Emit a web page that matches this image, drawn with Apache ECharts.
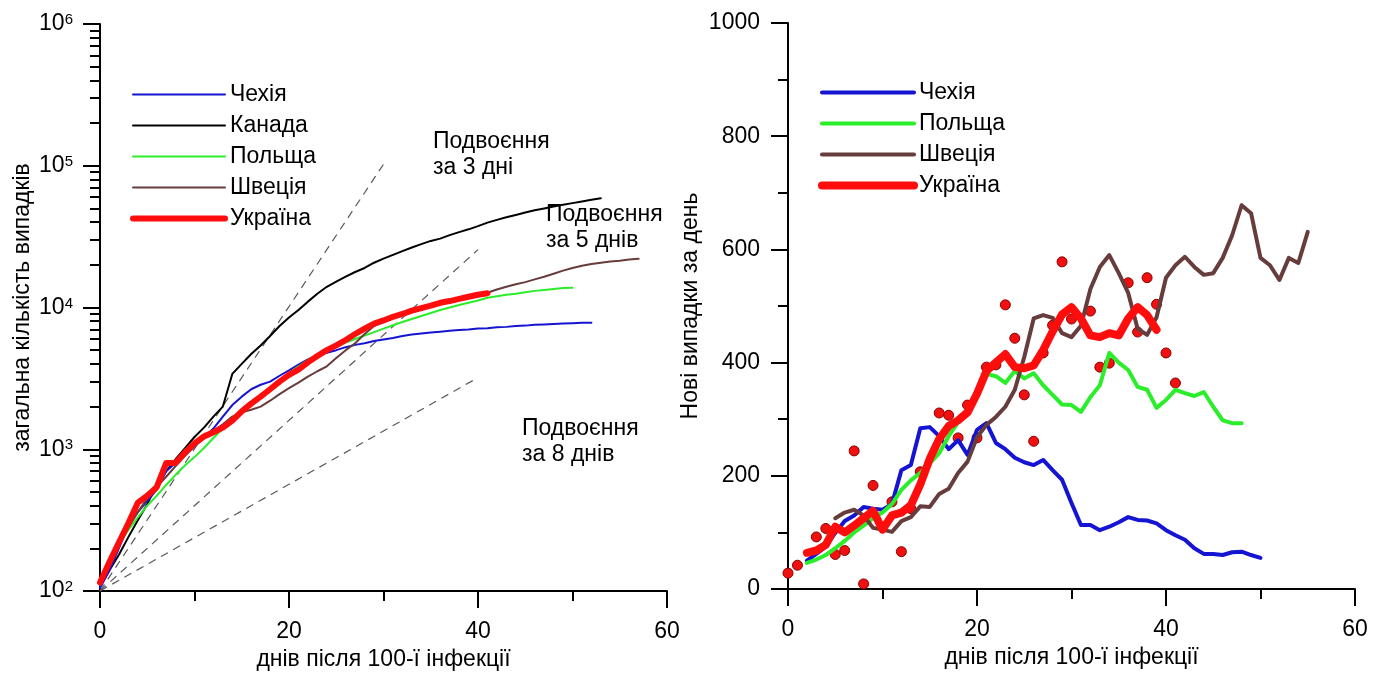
<!DOCTYPE html>
<html lang="uk">
<head>
<meta charset="UTF-8">
<title>COVID-19: Україна та інші країни</title>
<script src="https://cdn.jsdelivr.net/npm/echarts@6/dist/echarts.min.js"></script>
<style>
html, body { margin: 0; padding: 0; background: #fff; }
#main { width: 1379px; height: 673px; }
</style>
</head>
<body>
<div id="main"></div>
<script>
// загальна кількість випадків, з дня 0 (ліва панель)
var totCzech = [105,140,200,290,360,430,520,700,800,920, 1050,1200,1400,1700,2050,2350,2650,2850,3000,3300,
  3600,3950,4300,4600,4800,5000,5250,5450,5600,5800, 5950,6100,6300,6450,6550,6650,6750,6850,6950,7000,
  7100,7150,7250,7300,7400,7450,7550,7600,7650,7700, 7750,7800,7800];
var totCanada = [107,140,180,240,316,410,560,700,850,1020, 1220,1420,1700,2000,3400,4000,4700,5400,6300,7400,
  8500,9600,11000,12500,14000,15200,16500,17800,19000,20700, 22100,23500,25000,26500,28000,29500,30600,32400,34000,35600,
  37500,39700,41500,43300,45000,46800,48500,50000,51500,53000, 54500,56000,57500,59000];
var totPoland = [110,160,215,270,330,400,470,560,660,770, 880,1020,1200,1400,1600,1820,2050,2350,2700,3050,
  3450,3850,4250,4650,5000,5300,5650,6000,6350,6700, 7100,7500,7900,8300,8700,9150,9600,10000,10400,10800,
  11200,11700,12000,12300,12500,12800,13100,13300,13500,13700, 13800];
var totSweden = [110,150,210,280,360,450,540,640,760,900, 1050,1200,1350,1500,1700,1820,1900,2000,2200,2450,
  2700,2950,3250,3550,3850,4400,5000,5600,6500,7400, 7900,8400,8800,9300,9700,10100,10600,10900,11300,11700,
  12200,12700,13400,14000,14600,15100,15800,16500,17300,18200, 19000,19700,20300,20700,21100,21400,21800,22100];
var totUkraine = [115,160,220,300,420,470,540,800,800,950, 1100,1230,1320,1420,1590,1850,2100,2350,2650,3000,
  3350,3650,4100,4550,5000,5400,5900,6500,7100,7700, 8100,8600,9000,9500,9900,10300,10800,11100,11500,11900,
  12300,12600];

// лінії подвоєння (кінцеві точки)
var dbl3Days = [0, 30], dbl3Vals = [100, 102400];
var dbl5Days = [0, 40], dbl5Vals = [100, 25600];
var dbl8Days = [0, 40], dbl8Vals = [100, 3200];

// нові випадки за день (права панель), перший день у *Start
var dailyCzechStart = 2;
var dailyCzech = [50,62,75,99,120,130,145,142,140,150, 210,219,284,286,270,247,263,237,281,293,
  258,247,232,224,219,228,210,193,152,113, 113,104,110,118,127,122,121,116,104,95,
  87,72,62,62,60,65,66,60,55];
var dailyPolandStart = 2;
var dailyPoland = [46,52,60,72,85,100,112,125,135,150, 175,192,205,222,240,270,295,315,352,380,
  376,364,385,372,381,360,343,326,325,313, 339,360,417,400,387,357,352,320,334,352,
  346,341,348,322,298,293,293];
var dailySwedenStart = 5;
var dailySweden = [125,135,140,130,108,105,101,120,127,146, 145,168,177,205,225,268,290,304,322,352,
  410,478,484,479,452,445,465,530,569,590, 558,523,460,449,480,550,572,587,569,555,
  558,585,625,678,664,585,572,546,585,576, 631];
var dailyUkraineStart = 2;
var dailyUkraine = [64,68,78,110,100,112,125,138,105,130, 135,148,185,230,265,288,298,312,345,385,
  400,415,392,390,395,422,455,485,498,478, 448,445,452,448,478,498,484,458];
// щоденні дані по Україні (точки)
var rawUaDays = [0,1,3,4,5,6,7,8,9,11,12,13,14,16,17,18,19,20,21,22,23,24,25,26,27,28,29,30,32,33,34,36,37,38,39,40,41];
var rawUaVals = [28,42,92,107,61,68,244,9,183,154,66,142,207,311,307,267,325,267,392,396,502,443,343,261,417,466,578,477,491,392,399,541,454,550,503,417,364];

var xName = 'днів після 100-ї інфекції';
var FONT = '"Liberation Sans", Arial, sans-serif';
var FS = 23;
var C_CZ = '#1414d2', C_CA = '#000000', C_PL = '#2aee2a', C_SE = '#663c3c', C_UA = '#ff0d0d';

function pairs(arr, start) {
  return arr.map(function (v, i) { return [start + i, v]; });
}
function zip(xs, ys) {
  return xs.map(function (x, i) { return [x, ys[i]]; });
}

var lineBlack = { show: true, onZero: false, lineStyle: { color: '#000', width: 2 } };
var tickBlack = { show: true, inside: false, length: 17, lineStyle: { color: '#000', width: 2 } };
function minor(n) { return { show: true, splitNumber: n, length: 10, lineStyle: { color: '#000', width: 2 } }; }
var labelStyle = { color: '#000', fontSize: FS, fontFamily: FONT };
var nameStyle = { color: '#000', fontSize: FS, fontFamily: FONT };

function xAx(grid) {
  return {
    gridIndex: grid, type: 'value', min: 0, max: 60, interval: 20,
    axisLine: lineBlack, axisTick: tickBlack, minorTick: minor(2),
    splitLine: { show: false }, minorSplitLine: { show: false },
    axisLabel: Object.assign({ margin: 29 }, labelStyle),
    name: xName, nameLocation: 'middle', nameGap: 57, nameTextStyle: nameStyle,
    nameMoveOverlap: false
  };
}

function thin(name, data, color, w) {
  return {
    name: name, type: 'line', data: data, symbol: 'none', color: color,
    lineStyle: { color: color, width: w, cap: 'round', join: 'round' }
  };
}
function dashed(data) {
  return {
    type: 'line', data: data, symbol: 'none', silent: true, color: '#5a5a5a',
    lineStyle: { color: '#5a5a5a', width: 1.2, type: [8, 6] }
  };
}

var leftSeries = [
  dashed(zip(dbl3Days, dbl3Vals)),
  dashed(zip(dbl5Days, dbl5Vals)),
  dashed(zip(dbl8Days, dbl8Vals)),
  thin('Канада', pairs(totCanada, 0), C_CA, 2),
  thin('Чехія', pairs(totCzech, 0), C_CZ, 2),
  thin('Польща', pairs(totPoland, 0), C_PL, 2),
  thin('Швеція', pairs(totSweden, 0), C_SE, 2),
  thin('Україна', pairs(totUkraine, 0), C_UA, 6)
];
leftSeries.forEach(function (s) { s.xAxisIndex = 0; s.yAxisIndex = 0; });

var rightSeries = [
  {
    name: 'щоденні', type: 'scatter', data: zip(rawUaDays, rawUaVals),
    symbolSize: 10, itemStyle: { color: '#f01010', borderColor: '#8a0000', borderWidth: 1, opacity: 1 }
  },
  thin('Чехія', pairs(dailyCzech, dailyCzechStart), C_CZ, 4),
  thin('Польща', pairs(dailyPoland, dailyPolandStart), C_PL, 4),
  thin('Швеція', pairs(dailySweden, dailySwedenStart), C_SE, 4),
  thin('Україна', pairs(dailyUkraine, dailyUkraineStart), C_UA, 8)
];
rightSeries.forEach(function (s) { s.xAxisIndex = 1; s.yAxisIndex = 1; });

function legendItems(names, widths) {
  return names.map(function (n, i) {
    return { name: n, lineStyle: { width: widths[i], cap: 'round' } };
  });
}

var chart = echarts.init(document.getElementById('main'), null, { renderer: 'canvas' });
chart.setOption({
  animation: false,
  backgroundColor: '#fff',
  textStyle: { fontFamily: FONT },
  grid: [
    { left: 100, top: 24, width: 567, height: 567, outerBoundsMode: 'none' },
    { left: 788, top: 23, width: 567, height: 566, outerBoundsMode: 'none' }
  ],
  xAxis: [xAx(0), xAx(1)],
  yAxis: [
    {
      gridIndex: 0, type: 'log', logBase: 10, min: 100, max: 1000000,
      axisLine: lineBlack, axisTick: tickBlack, minorTick: minor(9),
      splitLine: { show: false }, minorSplitLine: { show: false },
      axisLabel: Object.assign({
        margin: 27,
        formatter: function (v) { return '10{s|' + Math.round(Math.log10(v)) + '}'; },
        rich: { s: { fontSize: 15, verticalAlign: 'top', color: '#000', fontFamily: FONT } }
      }, labelStyle),
      name: 'загальна кількість випадків', nameLocation: 'middle', nameGap: 66,
      nameTextStyle: nameStyle, nameMoveOverlap: false
    },
    {
      gridIndex: 1, type: 'value', min: 0, max: 1000, interval: 200,
      axisLine: lineBlack, axisTick: tickBlack, minorTick: minor(2),
      splitLine: { show: false }, minorSplitLine: { show: false },
      axisLabel: Object.assign({ margin: 28, formatter: function (v) { return String(v); } }, labelStyle),
      name: 'Нові випадки за день', nameLocation: 'middle', nameGap: 86,
      nameTextStyle: nameStyle, nameMoveOverlap: false
    }
  ],
  legend: [
    {
      orient: 'vertical', left: 130, top: 83, padding: 0, itemGap: 8,
      itemWidth: 92, itemHeight: 14, itemStyle: { opacity: 0 },
      textStyle: { color: '#000', fontSize: FS, fontFamily: FONT }, selectedMode: false,
      data: legendItems(['Чехія', 'Канада', 'Польща', 'Швеція', 'Україна'], [2, 2, 2, 2, 6])
    },
    {
      orient: 'vertical', left: 818, top: 81, padding: 0, itemGap: 8,
      itemWidth: 92, itemHeight: 14, itemStyle: { opacity: 0 },
      textStyle: { color: '#000', fontSize: FS, fontFamily: FONT }, selectedMode: false,
      data: legendItems(['Чехія', 'Польща', 'Швеція', 'Україна'], [4, 4, 4, 8])
    }
  ],
  graphic: [
    { type: 'text', left: 433, top: 129, style: { text: 'Подвоєння\nза 3 дні', fontSize: FS, fontFamily: FONT, lineHeight: 26, fill: '#000' } },
    { type: 'text', left: 546, top: 202, style: { text: 'Подвоєння\nза 5 днів', fontSize: FS, fontFamily: FONT, lineHeight: 26, fill: '#000' } },
    { type: 'text', left: 522, top: 416, style: { text: 'Подвоєння\nза 8 днів', fontSize: FS, fontFamily: FONT, lineHeight: 26, fill: '#000' } }
  ],
  series: leftSeries.concat(rightSeries)
});
</script>
</body>
</html>
